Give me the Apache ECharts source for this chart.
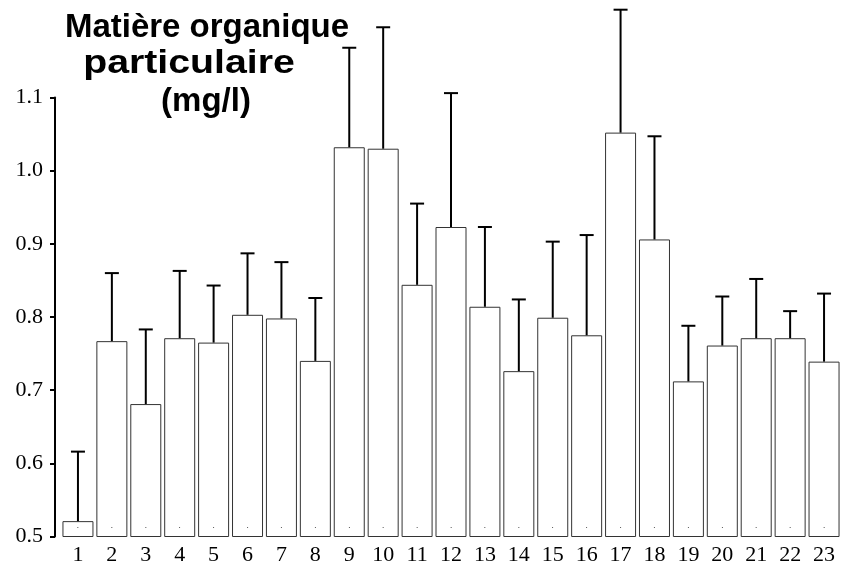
<!DOCTYPE html>
<html>
<head>
<meta charset="utf-8">
<script src="https://cdn.jsdelivr.net/npm/echarts@6/dist/echarts.min.js"></script>
<style>
  html, body { margin: 0; padding: 0; background: #fff; }
  #chart { width: 841px; height: 571px; }
</style>
</head>
<body>
<div id="chart"></div>
<script>
// Stations along the x axis
const stations = ['1','2','3','4','5','6','7','8','9','10','11','12','13','14','15','16','17','18','19','20','21','22','23'];
// Mean particulate organic matter (mg/l) per station
const meanValues = [0.521, 0.767, 0.681, 0.771, 0.765, 0.803, 0.798, 0.740, 1.032, 1.030, 0.844, 0.923,
                    0.814, 0.726, 0.799, 0.775, 1.052, 0.906, 0.712, 0.761, 0.771, 0.771, 0.739];
// Standard deviation per station (drawn as upper whisker)
const sdValues = [0.095, 0.093, 0.102, 0.092, 0.078, 0.084, 0.077, 0.086, 0.136, 0.166, 0.111, 0.183,
                  0.109, 0.098, 0.104, 0.137, 0.168, 0.141, 0.076, 0.067, 0.081, 0.037, 0.093];
// Title lines
const titleLines = ['Matière organique', 'particulaire', '(mg/l)'];

const errorData = meanValues.map((m, i) => [i, m, m + sdValues[i]]);

const chart = echarts.init(document.getElementById('chart'), null, { renderer: 'canvas' });

const serif = '"Liberation Serif", "Times New Roman", serif';
const sans = '"Liberation Sans", Arial, sans-serif';
const titleFont = 'bold 33px ' + sans;

chart.setOption({
  animation: false,
  backgroundColor: '#fff',
  // the last category runs slightly past the right edge of the canvas
  grid: { left: 61, width: 783, top: 97.5, bottom: 34.5, containLabel: false },
  xAxis: {
    type: 'category',
    data: stations,
    boundaryGap: true,
    axisLine: { show: false },
    axisTick: { show: false },
    axisLabel: { color: '#000', fontFamily: serif, fontSize: 22, margin: 8, interval: 0 },
    splitLine: { show: false }
  },
  yAxis: {
    type: 'value',
    min: 0.5,
    max: 1.1,
    interval: 0.1,
    offset: 6,
    axisLine: { show: true, lineStyle: { color: '#000', width: 2 } },
    axisTick: { show: true, inside: false, length: 5, lineStyle: { color: '#000', width: 2 } },
    axisLabel: { color: '#000', fontFamily: serif, fontSize: 22, margin: 12,
                 formatter: v => v.toFixed(1) },
    splitLine: { show: false }
  },
  graphic: [
    { type: 'text', x: 207, y: 28, style: { text: titleLines[0], font: titleFont, fill: '#000', align: 'center', verticalAlign: 'middle' } },
    { type: 'text', x: 189, y: 63.5, scaleX: 1.19, style: { text: titleLines[1], font: titleFont, fill: '#000', align: 'center', verticalAlign: 'middle' } },
    { type: 'text', x: 206, y: 101.5, style: { text: titleLines[2], font: titleFont, fill: '#000', align: 'center', verticalAlign: 'middle' } }
  ],
  series: [
    {
      type: 'bar',
      data: meanValues,
      barWidth: 31,
      itemStyle: { color: '#fff', borderColor: '#333', borderWidth: 1 },
      label: {
        show: true,
        position: 'insideBottom',
        distance: 7,
        formatter: '.',
        fontSize: 9,
        color: '#000',
        fontFamily: serif
      },
      z: 2
    },
    {
      type: 'custom',
      data: errorData,
      clip: false,
      z: 3,
      renderItem: function (params, api) {
        const x = api.coord([api.value(0), api.value(1)])[0];
        const yMean = api.coord([api.value(0), api.value(1)])[1];
        const yTop = api.coord([api.value(0), api.value(2)])[1];
        const half = 7;
        const style = { stroke: '#000', lineWidth: 2 };
        return {
          type: 'group',
          children: [
            { type: 'line', shape: { x1: x, y1: yMean, x2: x, y2: yTop }, style: style },
            { type: 'line', shape: { x1: x - half, y1: yTop, x2: x + half, y2: yTop }, style: style }
          ]
        };
      }
    }
  ]
});
</script>
</body>
</html>
